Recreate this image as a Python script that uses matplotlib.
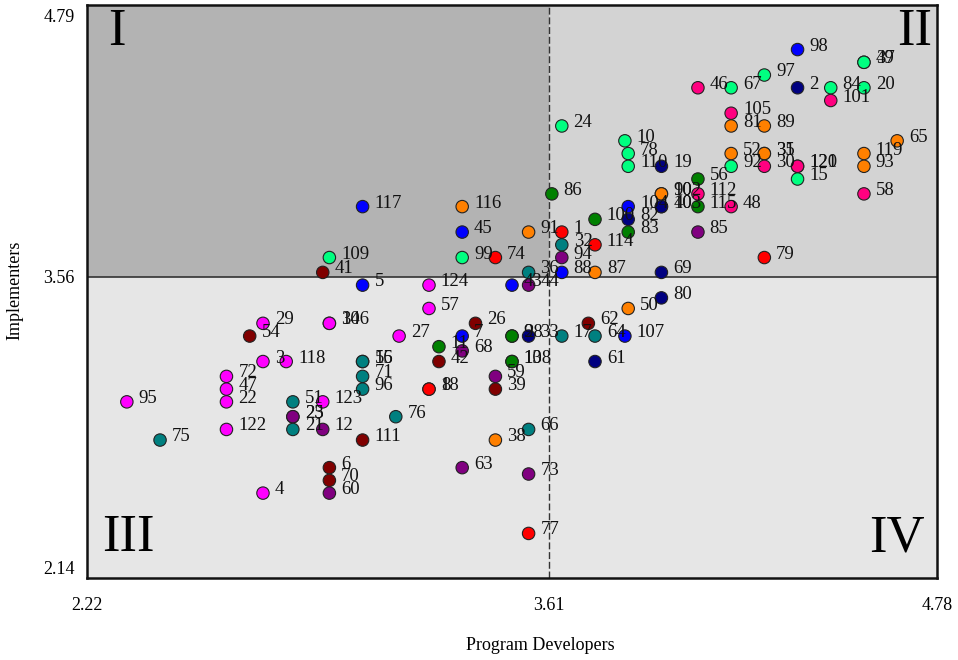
import matplotlib
matplotlib.use("Agg")
import matplotlib.pyplot as plt
from matplotlib.patches import Rectangle

plt.rcParams['font.family'] = ['Liberation Serif', 'DejaVu Serif']

# Program identifiers, mean ratings by developers (x) and implementers (y), and group colours
ids = [98, 49, 37, 46, 67, 97, 2, 84, 20, 101, 105, 81, 89, 24, 10, 65, 78, 52, 35, 31,
       119, 110, 19, 92, 30, 120, 121, 93, 56, 15, 86, 90, 102, 112, 58, 117, 116, 104, 40, 103,
       115, 48, 100, 82, 45, 91, 1, 83, 85, 32, 114, 109, 99, 74, 94, 79, 41, 36, 88, 87,
       69, 5, 124, 43, 44, 80, 57, 50, 29, 106, 34, 26, 62, 54, 27, 7, 9, 28, 33, 17,
       64, 107, 11, 68, 3, 118, 16, 55, 42, 108, 13, 61, 72, 71, 59, 47, 96, 8, 18, 39,
       95, 22, 51, 123, 23, 25, 76, 122, 21, 12, 66, 75, 111, 38, 6, 63, 73, 70, 4, 60,
       77]
developers = [4.36, 4.56, 4.56, 4.06, 4.16, 4.26, 4.36, 4.46, 4.56, 4.46, 4.16, 4.16, 4.26, 3.65, 3.84, 4.66, 3.85, 4.16, 4.26, 4.26,
              4.56, 3.85, 3.95, 4.16, 4.26, 4.36, 4.36, 4.56, 4.06, 4.36, 3.62, 3.95, 3.95, 4.06, 4.56, 3.05, 3.35, 3.85, 3.95, 3.95,
              4.06, 4.16, 3.75, 3.85, 3.35, 3.55, 3.65, 3.85, 4.06, 3.65, 3.75, 2.95, 3.35, 3.45, 3.65, 4.26, 2.93, 3.55, 3.65, 3.75,
              3.95, 3.05, 3.25, 3.50, 3.55, 3.95, 3.25, 3.85, 2.75, 2.95, 2.95, 3.39, 3.73, 2.71, 3.16, 3.35, 3.50, 3.50, 3.55, 3.65,
              3.75, 3.84, 3.28, 3.35, 2.75, 2.82, 3.05, 3.05, 3.28, 3.50, 3.50, 3.75, 2.64, 3.05, 3.45, 2.64, 3.05, 3.25, 3.25, 3.45,
              2.34, 2.64, 2.84, 2.93, 2.84, 2.84, 3.15, 2.64, 2.84, 2.93, 3.55, 2.44, 3.05, 3.45, 2.95, 3.35, 3.55, 2.95, 2.75, 2.95,
              3.55]
implementers = [4.63, 4.57, 4.57, 4.45, 4.45, 4.51, 4.45, 4.45, 4.45, 4.39, 4.33, 4.27, 4.27, 4.27, 4.20, 4.20, 4.14, 4.14, 4.14, 4.14,
                4.14, 4.08, 4.08, 4.08, 4.08, 4.08, 4.08, 4.08, 4.02, 4.02, 3.95, 3.95, 3.95, 3.95, 3.95, 3.89, 3.89, 3.89, 3.89, 3.89,
                3.89, 3.89, 3.83, 3.83, 3.77, 3.77, 3.77, 3.77, 3.77, 3.71, 3.71, 3.65, 3.65, 3.65, 3.65, 3.65, 3.58, 3.58, 3.58, 3.58,
                3.58, 3.52, 3.52, 3.52, 3.52, 3.46, 3.41, 3.41, 3.34, 3.34, 3.34, 3.34, 3.34, 3.28, 3.28, 3.28, 3.28, 3.28, 3.28, 3.28,
                3.28, 3.28, 3.23, 3.21, 3.16, 3.16, 3.16, 3.16, 3.16, 3.16, 3.16, 3.16, 3.09, 3.09, 3.09, 3.03, 3.03, 3.03, 3.03, 3.03,
                2.97, 2.97, 2.97, 2.97, 2.90, 2.90, 2.90, 2.84, 2.84, 2.84, 2.84, 2.79, 2.79, 2.79, 2.66, 2.66, 2.63, 2.60, 2.54, 2.54,
                2.35]
groups = ['blue', 'mint', 'mint', 'pink', 'mint', 'mint', 'navy', 'mint', 'mint', 'pink', 'pink', 'orange', 'orange', 'mint', 'mint', 'orange', 'mint', 'orange', 'orange', 'orange',
          'orange', 'mint', 'navy', 'mint', 'pink', 'pink', 'pink', 'orange', 'green', 'mint', 'green', 'orange', 'orange', 'pink', 'pink', 'blue', 'orange', 'blue', 'navy', 'navy',
          'green', 'pink', 'green', 'navy', 'blue', 'orange', 'red', 'green', 'purple', 'teal', 'red', 'mint', 'mint', 'red', 'purple', 'red', 'darkred', 'teal', 'blue', 'orange',
          'navy', 'blue', 'magenta', 'blue', 'purple', 'navy', 'magenta', 'orange', 'magenta', 'magenta', 'magenta', 'darkred', 'darkred', 'darkred', 'magenta', 'blue', 'green', 'green', 'navy', 'teal',
          'teal', 'blue', 'green', 'purple', 'magenta', 'magenta', 'teal', 'teal', 'darkred', 'green', 'green', 'navy', 'magenta', 'teal', 'purple', 'magenta', 'teal', 'red', 'red', 'darkred',
          'magenta', 'magenta', 'teal', 'magenta', 'purple', 'purple', 'teal', 'magenta', 'teal', 'purple', 'teal', 'teal', 'darkred', 'orange', 'darkred', 'purple', 'purple', 'darkred', 'magenta', 'purple',
          'red']

palette = {'blue': '#0000FF', 'mint': '#00FF80', 'pink': '#FF0080', 'navy': '#000080',
           'orange': '#FF8000', 'green': '#008000', 'red': '#FF0000', 'purple': '#800080',
           'teal': '#008080', 'darkred': '#800000', 'magenta': '#FF00FF'}

x_ticks = [2.22, 3.61, 4.78]
y_ticks = [2.14, 3.56, 4.79]
x_mean, y_mean = 3.61, 3.56
x_lim = (2.22, 4.78)
y_lim = (2.14, 4.84)

fig = plt.figure(figsize=(9.58, 6.6), dpi=100)
ax = fig.add_axes([87 / 958, 82 / 660, 850 / 958, 573 / 660])
ax.set_xlim(*x_lim)
ax.set_ylim(*y_lim)

# quadrant shading
ax.add_patch(Rectangle((x_lim[0], y_mean), x_mean - x_lim[0], y_lim[1] - y_mean,
                       facecolor='#B3B3B3', edgecolor='none', zorder=0))
ax.add_patch(Rectangle((x_mean, y_mean), x_lim[1] - x_mean, y_lim[1] - y_mean,
                       facecolor='#D3D3D3', edgecolor='none', zorder=0))
ax.add_patch(Rectangle((x_lim[0], y_lim[0]), x_lim[1] - x_lim[0], y_mean - y_lim[0],
                       facecolor='#E6E6E6', edgecolor='none', zorder=0))

ax.axvline(x_mean, color='#333333', lw=1.0, ls=(0, (5, 2)), zorder=1)
ax.axhline(y_mean, color='#333333', lw=1.2, zorder=1)

ax.scatter(developers, implementers, s=80, c=[palette[g] for g in groups],
           edgecolors='#222222', linewidths=0.8, zorder=3)
for lab, xv, yv in zip(ids, developers, implementers):
    ax.annotate(str(lab), (xv, yv), xytext=(8.5, 2.5), textcoords='offset points',
                ha='left', va='center', fontsize=13.5, color='#111111', zorder=4)

# quadrant numerals
for txt, xf, yf in [('I', 30 / 850, 1 - 27 / 573), ('II', 828 / 850, 1 - 27 / 573),
                    ('III', 41 / 850, 40 / 573), ('IV', 810 / 850, 40 / 573)]:
    ax.text(xf, yf, txt, transform=ax.transAxes, ha='center', va='center',
            fontsize=38, color='black')

ax.set_xticks(x_ticks)
ax.set_xticklabels([f'{v:.2f}' for v in x_ticks])
ax.set_yticks(y_ticks)
ax.set_yticklabels([f'{v:.2f}' for v in y_ticks])
ax.tick_params(axis='both', length=0, labelsize=13)
ax.tick_params(axis='x', pad=14)
ax.tick_params(axis='y', pad=9)
ax.get_yticklabels()[0].set_va('bottom')

for sp in ax.spines.values():
    sp.set_linewidth(1.8)
    sp.set_color('#111111')

fig.text(540 / 958, 15 / 660, 'Program Developers', ha='center', va='center', fontsize=13)
fig.text(15 / 958, 1 - 290 / 660, 'Implementers', ha='center', va='center',
         rotation=90, fontsize=13)

fig.savefig('out.png', dpi=100)
